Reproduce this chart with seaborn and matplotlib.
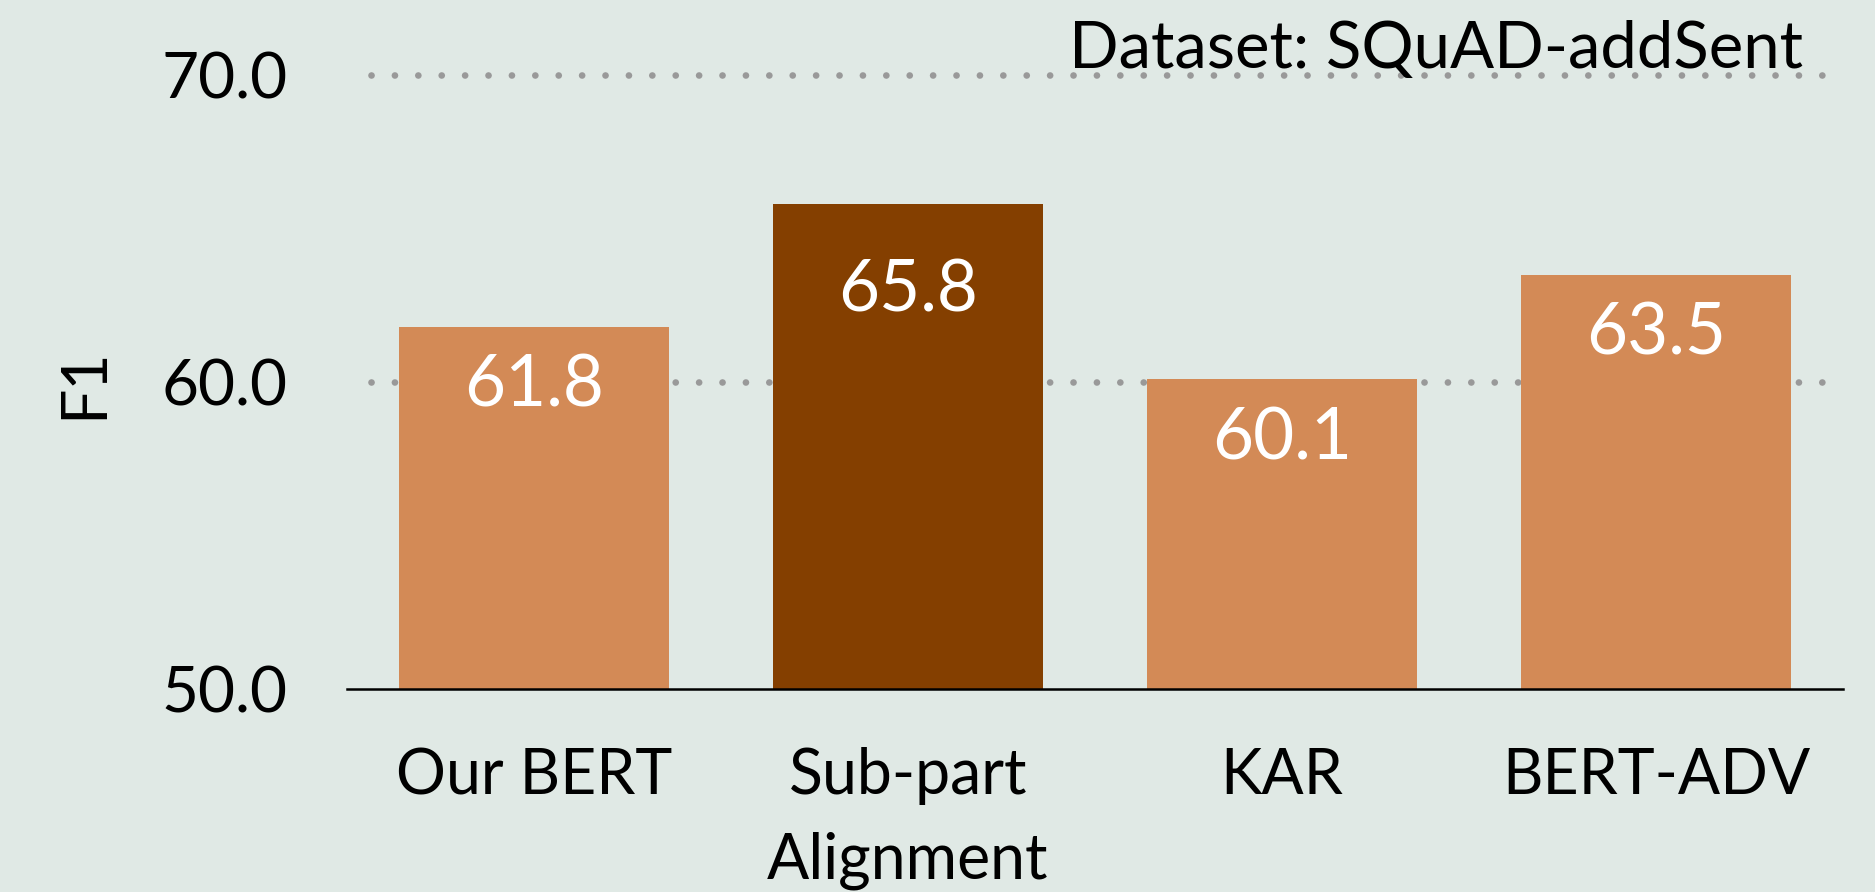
import matplotlib
matplotlib.use("Agg")
import matplotlib.pyplot as plt
import seaborn as sns
import pandas as pd

# ---- data ----
categories = ["Our BERT", "Sub-part\nAlignment", "KAR", "BERT-ADV"]
f1_scores = [61.8, 65.8, 60.1, 63.5]
highlight = [False, True, False, False]
y_ticks = [50.0, 60.0, 70.0]
y_label = "F1"
title_text = "Dataset: SQuAD-addSent"

BG = "#E0E9E5"
LIGHT = "#D38A56"
DARK = "#843F00"
GRID = "#999999"
FONT = "Lato"

sns.set_theme(style="white")
plt.rcParams["font.family"] = [FONT, "DejaVu Sans"]

W, H, DPI = 1875, 892, 100
fig = plt.figure(figsize=(W / DPI, H / DPI), dpi=DPI, facecolor=BG)
ax_left, ax_right, ax_bottom = 347, 1843, 689
ax = fig.add_axes([ax_left / W, (H - ax_bottom) / H, (ax_right - ax_left) / W, ax_bottom / H])
ax.set_facecolor(BG)

df = pd.DataFrame({"method": categories, "f1": f1_scores})
palette = {c: (DARK if h else LIGHT) for c, h in zip(categories, highlight)}
sns.barplot(data=df, x="method", y="f1", hue="method", palette=palette,
            width=0.72, saturation=1, legend=False, ax=ax, zorder=2,
            linewidth=0, edgecolor="none")

px_per_unit = 307 / 10.0
ax.set_ylim(50, 50 + ax_bottom / px_per_unit)
ax.set_xlim(-0.5, len(categories) - 0.5)

# dotted grid
for yv in y_ticks[1:]:
    ax.axhline(yv, xmin=0.016, xmax=0.997, color=GRID, lw=4.8,
               linestyle=(0, (0.01, 3.5)), dash_capstyle="round", zorder=1)

ax.set_yticks(y_ticks)
ax.set_yticklabels([f"{v:.1f}" for v in y_ticks])
ax.set_xticks(range(len(categories)))
ax.set_xticklabels(categories, linespacing=1.55)
ax.tick_params(axis="y", length=0, pad=43, labelsize=46, labelcolor="black")
ax.tick_params(axis="x", length=0, pad=42, labelsize=45, labelcolor="black")

for s in ["left", "right", "top"]:
    ax.spines[s].set_visible(False)
ax.spines["bottom"].set_color("black")
ax.spines["bottom"].set_linewidth(1.8)
ax.spines["bottom"].set_zorder(3)

ax.set_xlabel("")
ax.set_ylabel("")
fig.text(84 / W, 1 - 383 / H, y_label, rotation=90, ha="center", va="center",
         fontsize=45, color="black")

for i, (v, h) in enumerate(zip(f1_scores, highlight)):
    ax.annotate(f"{v:.1f}", (i, v), xytext=(0, -63 if h else -43),
                textcoords="offset points", ha="center", va="center",
                color="white", fontsize=51, zorder=4)

fig.text(1803 / W, 1 - 68 / H, title_text, ha="right", va="baseline",
         fontsize=47, color="black")

fig.savefig("out.png", dpi=DPI, facecolor=BG)
